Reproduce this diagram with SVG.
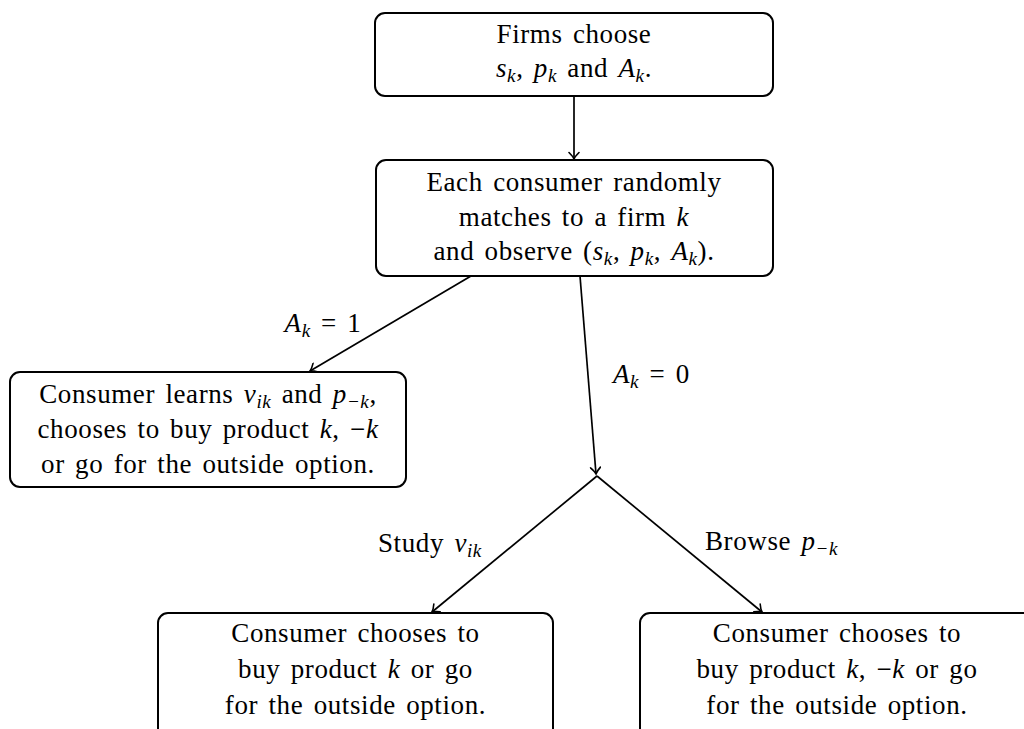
<svg xmlns="http://www.w3.org/2000/svg" width="1024" height="729" viewBox="0 0 1024 729">
<defs>
<marker id="arr" viewBox="-8 -6 10 12" markerWidth="10" markerHeight="12" refX="0" refY="0" orient="auto" markerUnits="userSpaceOnUse">
<path d="M -6.5 -5 Q -2.5 -1 0 0 Q -2.5 1 -6.5 5" fill="none" stroke="#000" stroke-width="1.6" stroke-linecap="round"/>
</marker>
<style>
.box{fill:#fff;stroke:#000;stroke-width:2}
.t{font-family:"Liberation Serif","Times New Roman",serif;font-size:27px;fill:#000;text-anchor:middle;letter-spacing:0.6px;word-spacing:3px}
.l{font-family:"Liberation Serif","Times New Roman",serif;font-size:27px;fill:#000;letter-spacing:0.6px;word-spacing:3px}
.i{font-style:italic}
.s{font-style:italic;font-size:19px}
.c{fill:none;stroke:#000;stroke-width:1.7;marker-end:url(#arr)}
</style>
</defs>
<rect width="1024" height="729" fill="#fff"/>
<g id="connectors">
<line class="c" x1="574" y1="96" x2="574" y2="159"/>
<line class="c" x1="471" y1="276" x2="310" y2="371"/>
<line class="c" x1="580" y1="276" x2="596" y2="474"/>
<line class="c" x1="597" y1="476" x2="432" y2="612"/>
<line class="c" x1="597" y1="476" x2="762" y2="612"/>
</g>
<g id="labels">
<text class="t" x="323" y="332"><tspan class="i">A</tspan><tspan class="s" dy="5">k</tspan><tspan dy="-5"> = 1</tspan></text>
<text class="l" x="613" y="383"><tspan class="i">A</tspan><tspan class="s" dy="5">k</tspan><tspan dy="-5"> = 0</tspan></text>
<text class="l" x="378" y="552">Study <tspan class="i">v</tspan><tspan class="s" dy="5">ik</tspan></text>
<text class="l" x="705" y="550">Browse <tspan class="i">p</tspan><tspan class="s" dy="5">−k</tspan></text>
</g>
<g id="node-firms">
<rect class="box" x="375" y="13" width="398" height="83" rx="10"/>
<text class="t" x="574" y="43">Firms choose</text>
<text class="t" x="574" y="77"><tspan class="i">s</tspan><tspan class="s" dy="5">k</tspan><tspan dy="-5">, </tspan><tspan class="i">p</tspan><tspan class="s" dy="5">k</tspan><tspan dy="-5"> and </tspan><tspan class="i">A</tspan><tspan class="s" dy="5">k</tspan><tspan dy="-5">.</tspan></text>
</g>
<g id="node-match">
<rect class="box" x="376" y="160" width="397" height="116" rx="10"/>
<text class="t" x="574" y="191">Each consumer randomly</text>
<text class="t" x="574" y="226">matches to a firm <tspan class="i">k</tspan></text>
<text class="t" x="574" y="260">and observe (<tspan class="i">s</tspan><tspan class="s" dy="5">k</tspan><tspan dy="-5">, </tspan><tspan class="i">p</tspan><tspan class="s" dy="5">k</tspan><tspan dy="-5">, </tspan><tspan class="i">A</tspan><tspan class="s" dy="5">k</tspan><tspan dy="-5">).</tspan></text>
</g>
<g id="node-learn">
<rect class="box" x="10" y="372" width="396" height="115" rx="10"/>
<text class="t" x="208" y="403">Consumer learns <tspan class="i">v</tspan><tspan class="s" dy="5">ik</tspan><tspan dy="-5"> and </tspan><tspan class="i">p</tspan><tspan class="s" dy="5">−k</tspan><tspan dy="-5">,</tspan></text>
<text class="t" x="208" y="438">chooses to buy product <tspan class="i">k</tspan>, −<tspan class="i">k</tspan></text>
<text class="t" x="208" y="473">or go for the outside option.</text>
</g>
<g id="node-study">
<rect class="box" x="158" y="613" width="395" height="140" rx="10"/>
<text class="t" x="355.5" y="642">Consumer chooses to</text>
<text class="t" x="355.5" y="678">buy product <tspan class="i">k</tspan> or go</text>
<text class="t" x="355.5" y="714">for the outside option.</text>
</g>
<g id="node-browse">
<rect class="box" x="640" y="613" width="395" height="140" rx="10"/>
<text class="t" x="837" y="642">Consumer chooses to</text>
<text class="t" x="837" y="678">buy product <tspan class="i">k</tspan>, −<tspan class="i">k</tspan> or go</text>
<text class="t" x="837" y="714">for the outside option.</text>
</g>
</svg>
